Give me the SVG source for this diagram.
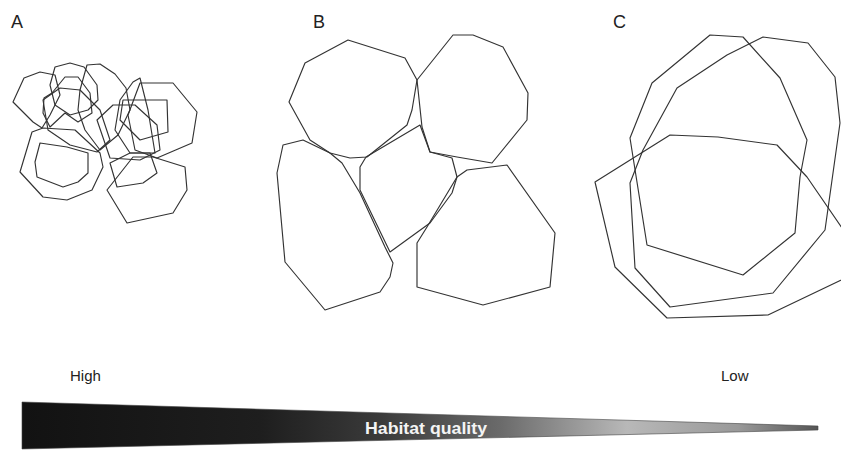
<svg xmlns="http://www.w3.org/2000/svg" width="841" height="450" viewBox="0 0 841 450">
<style>
.cell{fill:none;stroke:#333;stroke-width:1.15;stroke-linejoin:round}
.lab{font-family:"Liberation Sans",Arial,sans-serif;fill:#222}
</style>
<defs>
<linearGradient id="g" gradientUnits="userSpaceOnUse" x1="22" y1="0" x2="818" y2="0">
<stop offset="0" stop-color="#121212"/>
<stop offset="0.3" stop-color="#1e1e1e"/>
<stop offset="0.45" stop-color="#3a3a3a"/>
<stop offset="0.6" stop-color="#6a6a6a"/>
<stop offset="0.76" stop-color="#b8b8b8"/>
<stop offset="0.9" stop-color="#999"/>
<stop offset="1" stop-color="#555"/>
</linearGradient>
</defs>
<rect width="841" height="450" fill="#fff"/>
<g id="panelA">
<polygon class="cell" points="13,102 24,78 40,72 55,75 60,95 50,115 42,128 33,122"/>
<polygon class="cell" points="50,85 55,67 70,63 84,67 97,85 98,100 88,110 70,115 55,105"/>
<polygon class="cell" points="44,98 52,93 65,77 78,77 90,93 92,113 78,122 65,113 50,127 43,113"/>
<polygon class="cell" points="80,90 87,65 100,64 115,74 126,88 130,110 118,135 100,150 85,130 78,110"/>
<polygon class="cell" points="140,83 173,83 197,112 192,143 157,158 135,150 128,115"/>
<polygon class="cell" points="120,100 133,82 140,78 148,110 155,153 130,153 115,130"/>
<polygon class="cell" points="123,100 167,100 168,132 140,140 120,120"/>
<polygon class="cell" points="43,100 60,88 80,90 100,110 110,140 97,152 70,145 48,130"/>
<polygon class="cell" points="20,172 32,132 43,128 75,130 100,153 103,167 92,190 67,200 43,197"/>
<polygon class="cell" points="35,162 40,143 67,147 88,153 88,173 78,182 63,187 37,177"/>
<polygon class="cell" points="107,190 127,223 173,213 187,190 185,167 153,157 133,157"/>
<polygon class="cell" points="110,163 130,153 150,153 157,173 143,183 117,187"/>
<polygon class="cell" points="97,120 113,105 135,105 157,125 160,150 140,160 110,158"/>
</g>
<g id="panelB">
<polygon class="cell" points="289,102 305,63 348,40 405,58 417,80 412,110 407,125 367,157 350,158 330,153 310,140"/>
<polygon class="cell" points="417,80 453,35 473,35 503,47 528,93 527,120 492,163 457,157 430,152 422,127"/>
<polygon class="cell" points="283,145 303,140 330,153 342,163 360,193 385,247 393,263 390,277 380,292 325,310 285,262 277,173"/>
<polygon class="cell" points="360,167 366,157 420,125 430,152 452,158 457,177 452,193 430,223 390,252 360,190"/>
<polygon class="cell" points="417,243 427,227 457,177 467,170 507,165 555,233 550,287 483,305 417,287"/>
</g>
<g id="panelC">
<polygon class="cell" points="710,35 743,37 780,78 807,140 800,177 795,233 743,275 647,245 633,157 630,138 652,83"/>
<polygon class="cell" points="677,88 727,55 763,37 808,43 835,77 840,123 833,173 825,230 773,293 670,307 635,268 630,183 643,150"/>
<polygon class="cell" points="595,182 670,135 718,137 777,145 807,177 860,254 860,271 768,315 667,318 615,267"/>
</g>
<g id="labels">
<text class="lab" x="11" y="28" font-size="18">A</text>
<text class="lab" x="313" y="28" font-size="18">B</text>
<text class="lab" x="613" y="28" font-size="18">C</text>
<text class="lab" x="70" y="381" font-size="15">High</text>
<text class="lab" x="721" y="381" font-size="15">Low</text>
</g>
<g id="wedge">
<polygon points="22,402 818,426 818,430 22,449" fill="url(#g)" stroke="#444" stroke-width="0.6"/>
<text x="426" y="434" text-anchor="middle" font-family="'Liberation Sans',Arial,sans-serif" font-size="16" font-weight="bold" fill="#f4f4f4" textLength="122" lengthAdjust="spacingAndGlyphs">Habitat quality</text>
</g>
</svg>
